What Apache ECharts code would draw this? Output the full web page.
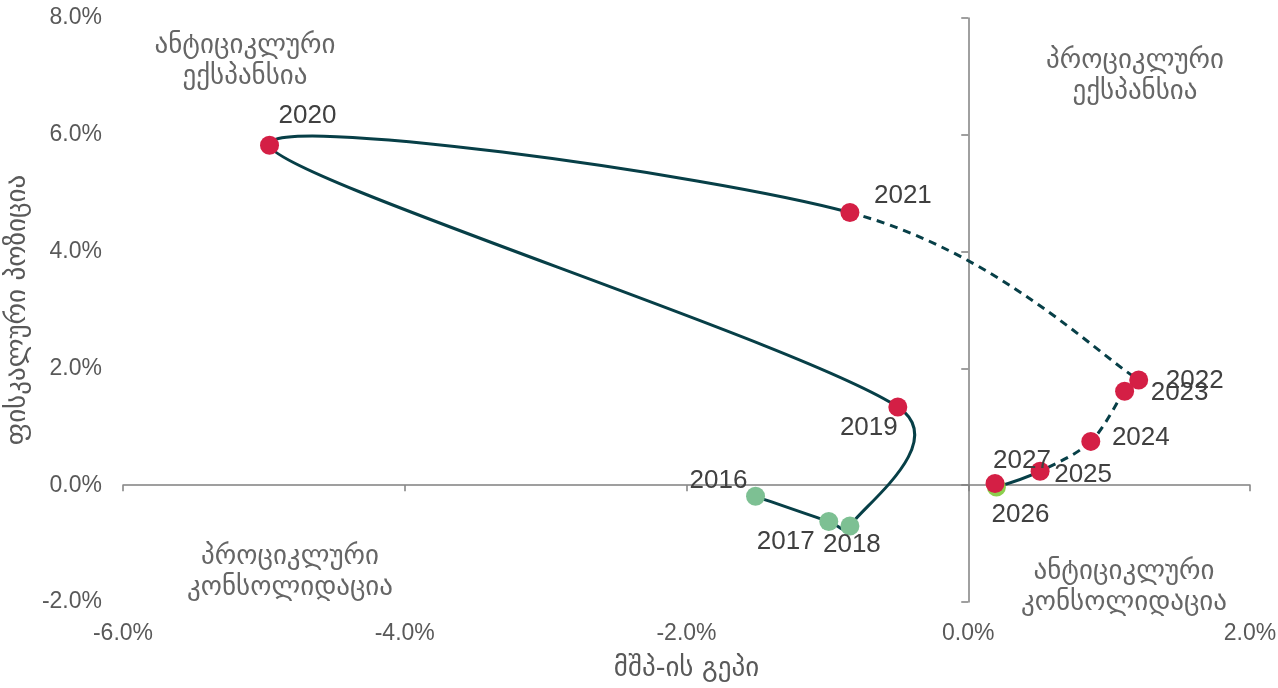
<!DOCTYPE html>
<html>
<head>
<meta charset="utf-8">
<script src="https://cdn.jsdelivr.net/npm/echarts@6/dist/echarts.min.js"></script>
<style>html,body{margin:0;padding:0;background:#fff}#c{width:1278px;height:688px}</style>
</head>
<body>
<div id="c"></div>
<script>
// ---- data ----
const years = ['2016','2017','2018','2019','2020','2021','2022','2023','2024','2025','2026','2027'];
const outputGap = [-1.51, -0.99, -0.84, -0.50, -4.96, -0.84, 1.21, 1.11, 0.87, 0.51, 0.20, 0.19];
const fiscalStance = [-0.19, -0.62, -0.70, 1.34, 5.82, 4.67, 1.80, 1.61, 0.75, 0.24, -0.03, 0.03];
const pathYears = ['2016','2017','2018','2019','2020','2021','2022','2023','2024','2025','2026','2027'];
const dashedFrom = ['2021','2022','2023','2024'];   // segments starting at these years are dashed
const greenYears = ['2016','2017','2018'];
const limeYears = ['2026'];
const xTicks = [-6, -4, -2, 0, 2];
const yTicks = [-2, 0, 2, 4, 6, 8];
const quadrantLabels = {
  tl: 'ანტიციკლური\nექსპანსია',
  tr: 'პროციკლური\nექსპანსია',
  bl: 'პროციკლური\nკონსოლიდაცია',
  br: 'ანტიციკლური\nკონსოლიდაცია'
};
const xTitle = 'მშპ-ის გეპი';
const yTitle = 'ფისკალური პოზიცია';

// ---- styles ----
const labelOffsets = {
  '2016': [-37, -15], '2017': [-43, 20], '2018': [2, 19], '2019': [-29, 21],
  '2020': [38, -29], '2021': [53, -17], '2022': [56, 1], '2023': [55, 2],
  '2024': [50, -4], '2025': [43, 4], '2026': [24, 28], '2027': [27, -23]
};
const RED = '#D41F45', GREEN = '#7DC093', LIME = '#8CCF4D', LINE = '#073F47';
const axisGray = '#808080', tickText = '#595959', quadText = '#666666';
const numFont = '"Liberation Sans", Arial, sans-serif';
const geoFont = '"DejaVu Sans", "Noto Sans", sans-serif';

function val(y) { const i = years.indexOf(y); return [outputGap[i], fiscalStance[i]]; }

const scatterData = years.map((y, i) => {
  let color = RED;
  if (greenYears.includes(y)) color = GREEN;
  if (limeYears.includes(y)) color = LIME;
  return {
    value: [outputGap[i], fiscalStance[i]],
    name: y,
    itemStyle: { color: color, opacity: 1 },
    label: { offset: labelOffsets[y] }
  };
});
const order = scatterData.slice().sort((a, b) => (a.name === '2027') - (b.name === '2027'));

// segments of the smoothed path
const segData = [];
for (let k = 0; k < pathYears.length - 1; k++) {
  const a = val(pathYears[k]), b = val(pathYears[k + 1]);
  segData.push([a[0], a[1], b[0], b[1], k]);
}

function renderSeg(params, api) {
  const k = api.value(4);
  const n = pathYears.length;
  const P = i => api.coord(val(pathYears[Math.max(0, Math.min(n - 1, i))]));
  const p0 = P(k - 1), p1 = P(k), p2 = P(k + 1), p3 = P(k + 2);
  const segLen = Math.hypot(p2[0] - p1[0], p2[1] - p1[1]);
  function tan(a, b) {
    let tx = (b[0] - a[0]) / 6, ty = (b[1] - a[1]) / 6;
    const L = Math.hypot(tx, ty), lim = segLen * 0.5;
    if (L > lim && L > 0) { tx *= lim / L; ty *= lim / L; }
    return [tx, ty];
  }
  const t1 = tan(p0, p2), t2 = tan(p1, p3);
  const dashed = dashedFrom.includes(pathYears[k]);
  return {
    type: 'bezierCurve',
    shape: { x1: p1[0], y1: p1[1], x2: p2[0], y2: p2[1],
      cpx1: p1[0] + t1[0], cpy1: p1[1] + t1[1], cpx2: p2[0] - t2[0], cpy2: p2[1] - t2[1] },
    style: { fill: null, stroke: LINE, lineWidth: 3, lineDash: dashed ? [8, 6] : null },
    silent: true
  };
}

const chart = echarts.init(document.getElementById('c'), null, { renderer: 'canvas' });

chart.setOption({
  animation: false,
  backgroundColor: '#fff',
  grid: { left: 123, right: 28, top: 18, bottom: 86, containLabel: false, outerBoundsMode: 'none' },
  xAxis: [
    { type: 'value', min: xTicks[0], max: xTicks[xTicks.length - 1], interval: 2, position: 'bottom',
      axisLine: { show: false }, axisTick: { show: false }, splitLine: { show: false },
      axisLabel: { color: tickText, fontSize: 23, fontFamily: numFont, margin: 20,
        formatter: v => v.toFixed(1) + '%' },
      name: xTitle, nameLocation: 'middle', nameGap: 53,
      nameTextStyle: { color: tickText, fontSize: 27, fontFamily: geoFont } },
    { type: 'value', min: xTicks[0], max: xTicks[xTicks.length - 1], interval: 2, position: 'top',
      axisLine: { show: true, onZero: true, onZeroAxisIndex: 1, lineStyle: { color: axisGray, width: 1.5 } },
      axisTick: { show: true, inside: true, length: 6, lineStyle: { color: axisGray, width: 1.5 } },
      axisLabel: { show: false }, splitLine: { show: false } }
  ],
  yAxis: [
    { type: 'value', min: yTicks[0], max: yTicks[yTicks.length - 1], interval: 2, position: 'left',
      axisLine: { show: false }, axisTick: { show: false }, splitLine: { show: false },
      axisLabel: { color: tickText, fontSize: 23, fontFamily: numFont, margin: 21,
        formatter: v => v.toFixed(1) + '%' },
      name: yTitle, nameLocation: 'middle', nameGap: 80, nameRotate: 90,
      nameTextStyle: { color: tickText, fontSize: 27, fontFamily: geoFont } },
    { type: 'value', min: yTicks[0], max: yTicks[yTicks.length - 1], interval: 2, position: 'right',
      axisLine: { show: true, onZero: true, onZeroAxisIndex: 1, lineStyle: { color: axisGray, width: 1.5 } },
      axisTick: { show: true, inside: true, length: 7, lineStyle: { color: axisGray, width: 1.5 } },
      axisLabel: { show: false }, splitLine: { show: false } }
  ],
  series: [
    { type: 'custom', xAxisIndex: 0, yAxisIndex: 0, renderItem: renderSeg, data: segData,
      encode: { x: [0, 2], y: [1, 3] }, z: 2, silent: true, clip: false },
    { type: 'scatter', xAxisIndex: 0, yAxisIndex: 0, symbolSize: 19, z: 5,
      data: order, itemStyle: { opacity: 1 },
      label: { show: true, position: 'inside', formatter: p => p.name,
        color: '#404040', fontSize: 26, fontFamily: numFont } }
  ],
  graphic: [
    { type: 'text', x: 245, y: 61, style: { text: quadrantLabels.tl, fill: quadText, font: '27px ' + geoFont, align: 'center', verticalAlign: 'middle', lineHeight: 31 } },
    { type: 'text', x: 1135, y: 76, style: { text: quadrantLabels.tr, fill: quadText, font: '27px ' + geoFont, align: 'center', verticalAlign: 'middle', lineHeight: 31 } },
    { type: 'text', x: 290, y: 572, style: { text: quadrantLabels.bl, fill: quadText, font: '27px ' + geoFont, align: 'center', verticalAlign: 'middle', lineHeight: 31 } },
    { type: 'text', x: 1124, y: 587, style: { text: quadrantLabels.br, fill: quadText, font: '27px ' + geoFont, align: 'center', verticalAlign: 'middle', lineHeight: 31 } }
  ]
});
</script>
</body>
</html>
